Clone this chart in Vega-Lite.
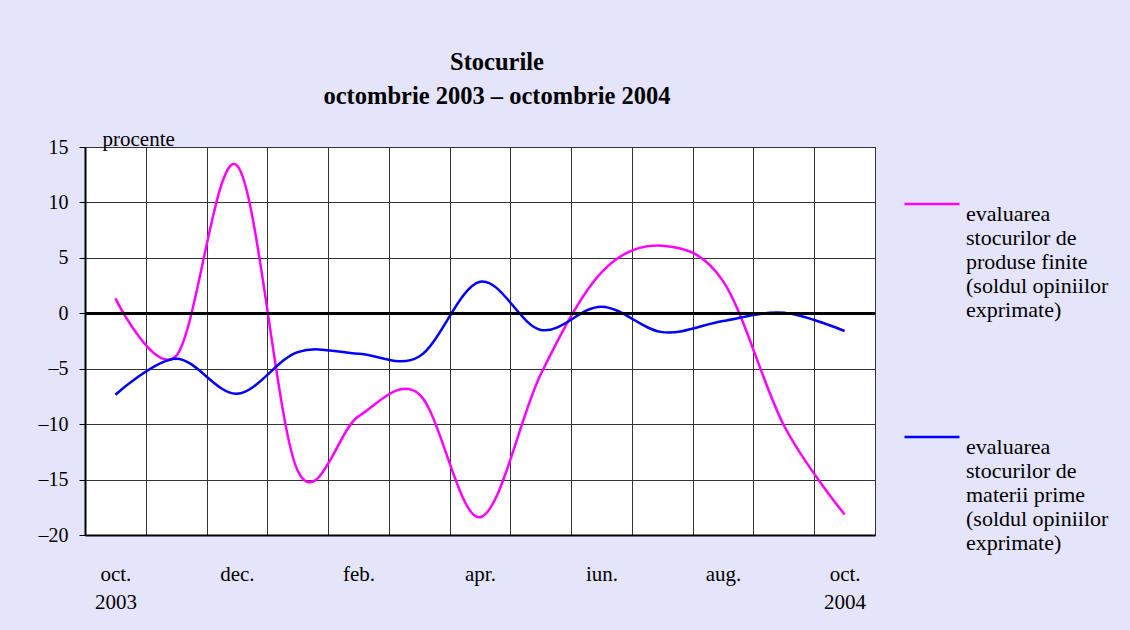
{
  "$schema": "https://vega.github.io/schema/vega-lite/v6.json",
  "width": 790,
  "height": 388,
  "autosize": {"type": "none"},
  "padding": {"left": 85, "top": 147, "right": 255, "bottom": 95},
  "background": "#e4e4fb",
  "config": {
    "view": {"fill": "white", "stroke": "black", "strokeWidth": 1},
    "font": "Liberation Serif",
    "legend": {"labelFont": "Liberation Serif", "titleFont": "Liberation Serif"}
  },
  "title": {
    "text": ["Stocurile", "octombrie 2003 – octombrie 2004"],
    "font": "Liberation Serif",
    "fontSize": 24.5,
    "fontWeight": "bold",
    "lineHeight": 34,
    "color": "black",
    "anchor": "middle",
    "dx": 17,
    "offset": 19
  },
  "data": {
    "values": [
      {"luna": "oct.|2003", "serie": "P", "valoare": 1.35},
      {"luna": "nov.|2003", "serie": "P", "valoare": -3.85},
      {"luna": "dec.|2003", "serie": "P", "valoare": 13.35},
      {"luna": "ian.|2004", "serie": "P", "valoare": -14.2},
      {"luna": "feb.|2004", "serie": "P", "valoare": -9.3},
      {"luna": "mar.|2004", "serie": "P", "valoare": -7.3},
      {"luna": "apr.|2004", "serie": "P", "valoare": -18.4},
      {"luna": "mai|2004", "serie": "P", "valoare": -5.5},
      {"luna": "iun.|2004", "serie": "P", "valoare": 3.7},
      {"luna": "iul.|2004", "serie": "P", "valoare": 6.1},
      {"luna": "aug.|2004", "serie": "P", "valoare": 2.9},
      {"luna": "sep.|2004", "serie": "P", "valoare": -10.1},
      {"luna": "oct.|2004", "serie": "P", "valoare": -18.15},
      {"luna": "oct.|2003", "serie": "M", "valoare": -7.35},
      {"luna": "nov.|2003", "serie": "M", "valoare": -4.1},
      {"luna": "dec.|2003", "serie": "M", "valoare": -7.25},
      {"luna": "ian.|2004", "serie": "M", "valoare": -3.5},
      {"luna": "feb.|2004", "serie": "M", "valoare": -3.65},
      {"luna": "mar.|2004", "serie": "M", "valoare": -3.9},
      {"luna": "apr.|2004", "serie": "M", "valoare": 2.85},
      {"luna": "mai|2004", "serie": "M", "valoare": -1.5},
      {"luna": "iun.|2004", "serie": "M", "valoare": 0.6},
      {"luna": "iul.|2004", "serie": "M", "valoare": -1.7},
      {"luna": "aug.|2004", "serie": "M", "valoare": -0.7},
      {"luna": "sep.|2004", "serie": "M", "valoare": 0.05},
      {"luna": "oct.|2004", "serie": "M", "valoare": -1.6}
    ]
  },
  "layer": [
    {
      "mark": {"type": "line", "interpolate": "cardinal", "tension": 0, "strokeWidth": 2.5},
      "encoding": {
        "x": {
          "field": "luna",
          "type": "ordinal",
          "sort": null,
          "bandPosition": 0.5,
          "scale": {"type": "band", "paddingInner": 0, "paddingOuter": 0},
          "axis": {
            "title": null,
            "tickBand": "extent",
            "ticks": false,
            "grid": true,
            "gridColor": "#333333",
            "domainColor": "black",
            "domainWidth": 2,
            "labelAngle": 0,
            "labelFont": "Liberation Serif",
            "labelFontSize": 21,
            "labelColor": "black",
            "labelBaseline": "top",
            "labelPadding": 28,
            "labelLineHeight": 28,
            "labelOverlap": false,
            "labelExpr": "datum.value == 'oct.|2003' || datum.value == 'oct.|2004' ? split(datum.value, '|') : (indexof(['dec.|2003','feb.|2004','apr.|2004','iun.|2004','aug.|2004'], datum.value) >= 0 ? split(datum.value, '|')[0] : '')"
          }
        },
        "y": {
          "field": "valoare",
          "type": "quantitative",
          "scale": {"domain": [-20, 15], "nice": false, "zero": false},
          "axis": {
            "title": "procente",
            "titleAngle": 0,
            "titleAlign": "left",
            "titleBaseline": "alphabetic",
            "titleX": 17,
            "titleY": -2,
            "titleFont": "Liberation Serif",
            "titleFontSize": 21,
            "titleFontWeight": "normal",
            "titleColor": "black",
            "values": [-20, -15, -10, -5, 0, 5, 10, 15],
            "labelExpr": "datum.value < 0 ? '–' + abs(datum.value) : '' + datum.value",
            "labelFont": "Liberation Serif",
            "labelFontSize": 20,
            "labelColor": "black",
            "labelPadding": 11,
            "tickSize": 6,
            "tickColor": "black",
            "domainColor": "black",
            "domainWidth": 2,
            "grid": true,
            "gridColor": "#333333"
          }
        },
        "color": {
          "field": "serie",
          "type": "nominal",
          "scale": {"domain": ["P", "M"], "range": ["#ff00ff", "#0000ff"]},
          "legend": {
            "orient": "none",
            "legendX": 818,
            "legendY": 28,
            "title": null,
            "symbolType": "stroke",
            "symbolSize": 3025,
            "symbolStrokeWidth": 2.5,
            "labelOffset": 5,
            "labelExpr": "datum.label == 'P' ? ['evaluarea', 'stocurilor de', 'produse finite', '(soldul opiniilor', 'exprimate)'] : ['evaluarea', 'stocurilor de', 'materii prime', '(soldul opiniilor', 'exprimate)']",
            "labelFont": "Liberation Serif",
            "labelFontSize": 22,
            "labelLineHeight": 26.7,
            "labelBaseline": "top",
            "labelLimit": 400,
            "labelColor": "black",
            "rowPadding": 87,
            "padding": 0
          }
        }
      }
    },
    {
      "mark": {"type": "rule", "color": "black", "strokeWidth": 2.5},
      "encoding": {"y": {"datum": 0}}
    }
  ]
}
